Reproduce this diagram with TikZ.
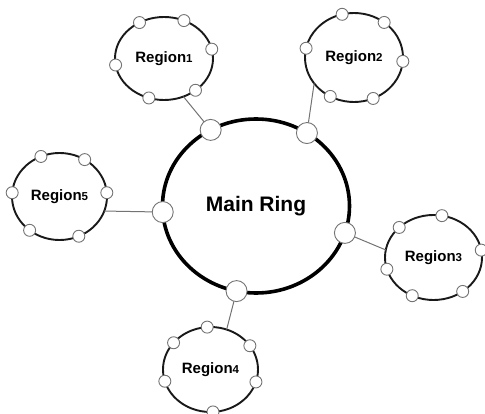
\documentclass[tikz,border=0pt]{standalone}
\usepackage{fontspec}
\setmainfont{Liberation Sans}
\usetikzlibrary{shapes.geometric,calc}
\newcommand{\dg}[1]{{\fontsize{11.5}{12}\selectfont #1}}
\begin{document}
\begin{tikzpicture}[x=1pt,y=-1pt,
  mainring/.style={ellipse,draw=black,line width=3.6pt,minimum width=187pt,minimum height=174pt,inner sep=0pt,outer sep=0pt,font=\fontsize{21}{24}\selectfont\bfseries},
  region/.style={ellipse,draw=black!90,line width=1.9pt,inner sep=0pt,outer sep=0pt,font=\fontsize{15}{17}\selectfont\bfseries},
  bport/.style={circle,draw=black!55,fill=white,line width=0.9pt,minimum size=21pt,inner sep=0pt,outer sep=0pt},
  sport/.style={circle,draw=black!55,fill=white,line width=0.9pt,minimum size=12pt,inner sep=0pt,outer sep=0pt},
  link/.style={draw=black!55,line width=1pt}]
\useasboundingbox (0,0) rectangle (485,414);
% main ring
\node[mainring] (m) at (256,206) {Main Ring};
% regions
\node[region,minimum width=98pt,minimum height=83pt] (r1) at (164,58.5) {Region\dg{1}};
\node[region,minimum width=98pt,minimum height=89pt] (r2) at (354,57.5) {Region\dg{2}};
\node[region,minimum width=97pt,minimum height=85pt] (r3) at (433.5,257.5) {Region\dg{3}};
\node[region,minimum width=95pt,minimum height=85pt] (r4) at (210.5,369.5) {Region\dg{4}};
\node[region,minimum width=95pt,minimum height=87pt] (r5) at (59.5,196.5) {Region\dg{5}};
% main ring ports
\node[bport] (mp1) at ($(m)+(119:93.5pt and 87pt)$) {};
\node[bport] (mp2) at ($(m)+(57:93.5pt and 87pt)$) {};
\node[bport] (mp3) at ($(m)+(184:93.5pt and 87pt)$) {};
\node[bport] (mp4) at ($(m)+(342:93.5pt and 87pt)$) {};
\node[bport] (mp5) at ($(m)+(258:93.5pt and 87pt)$) {};
% connectors
\draw[link] (mp1) -- (r1.297);
\draw[link] (mp2) -- (r2.213);
\draw[link] (mp4) -- (r3.171);
\draw[link] (mp5) -- (r4.68);
\draw[link] (mp3) -- (r5.342);
% region ports
\foreach \a [count=\i] in {120,66,13,189,252,310}
  \node[sport] (r1p\i) at ($(r1)+(\a:49pt and 41.5pt)$) {};
\foreach \a [count=\i] in {104,52,355,168,241,293}
  \node[sport] (r2p\i) at ($(r2)+(\a:49pt and 44.5pt)$) {};
\foreach \a [count=\i] in {80,135,10,196,307,244}
  \node[sport] (r3p\i) at ($(r3)+(\a:48.5pt and 42.5pt)$) {};
\foreach \a [count=\i] in {94,141,34,196,343,273}
  \node[sport] (r4p\i) at ($(r4)+(\a:47.5pt and 42.5pt)$) {};
\foreach \a [count=\i] in {113,58,175,5,231,294}
  \node[sport] (r5p\i) at ($(r5)+(\a:47.5pt and 43.5pt)$) {};
\end{tikzpicture}
\end{document}
